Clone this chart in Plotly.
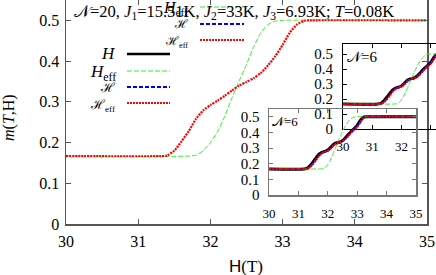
import plotly.graph_objects as go

# ---- data: N=20 (main panel) ----
h20 = [30.0, 31.3, 31.4, 31.5, 31.6, 31.7, 31.8, 31.9, 32.0, 32.1, 32.2, 32.3, 32.4,
       32.5, 32.6, 32.7, 32.8, 32.9, 33.0, 33.1, 33.2, 33.3, 33.4, 35.0]
m20_Heff_cal = [0.1667, 0.1667, 0.168, 0.180, 0.203, 0.228, 0.258, 0.279, 0.292, 0.303,
                0.315, 0.328, 0.340, 0.349, 0.358, 0.371, 0.390, 0.412, 0.440, 0.470,
                0.490, 0.499, 0.500, 0.500]
h20g = [30.0, 31.7, 31.8, 31.9, 32.0, 32.1, 32.2, 32.3, 32.4, 32.5, 32.6, 32.7, 32.8,
        32.9, 33.0, 35.0]
m20_Heff = [0.1667, 0.1667, 0.169, 0.180, 0.200, 0.227, 0.265, 0.310, 0.352, 0.392,
            0.435, 0.470, 0.490, 0.498, 0.500, 0.500]

# ---- data: N=6 (insets) ----
h6 = [30.0, 31.2, 31.3, 31.4, 31.5, 31.6, 31.7, 31.8, 31.9, 32.0, 32.1, 32.2, 32.3,
      32.4, 32.5, 32.6, 32.7, 32.8, 32.9, 33.0, 33.1, 33.2, 33.3, 33.4, 35.0]
m6_H = [0.1667, 0.1667, 0.172, 0.188, 0.212, 0.238, 0.261, 0.273, 0.279, 0.287, 0.305,
        0.325, 0.334, 0.338, 0.348, 0.366, 0.388, 0.408, 0.425, 0.445, 0.475, 0.496,
        0.500, 0.500, 0.500]
m6_Hcal = [0.1667, 0.1667, 0.170, 0.183, 0.205, 0.230, 0.255, 0.270, 0.278, 0.285, 0.301,
           0.321, 0.332, 0.337, 0.345, 0.362, 0.383, 0.404, 0.421, 0.440, 0.468, 0.493,
           0.500, 0.500, 0.500]
m6_Heff_cal = [0.1667, 0.1667, 0.168, 0.178, 0.198, 0.222, 0.248, 0.268, 0.277, 0.283,
               0.298, 0.318, 0.331, 0.336, 0.343, 0.358, 0.378, 0.400, 0.418, 0.435,
               0.462, 0.490, 0.499, 0.500, 0.500]
h6g = [30.0, 31.75, 31.85, 31.95, 32.05, 32.15, 32.25, 32.35, 32.45, 32.55, 32.65,
       32.75, 32.85, 32.95, 35.0]
m6_Heff = [0.1667, 0.1667, 0.169, 0.182, 0.210, 0.250, 0.295, 0.340, 0.385, 0.425,
           0.458, 0.482, 0.495, 0.500, 0.500]

xticks = [30, 31, 32, 33, 34, 35]
yticks = [0, 0.1, 0.2, 0.3, 0.4, 0.5]
ytick_text = ["0", "0.1", "0.2", "0.3", "0.4", "0.5"]

SERIF = "Liberation Serif, Times New Roman, serif"
W, Hh = 436, 275
def px(x): return x / W
def py(y): return 1 - y / Hh

BLACK = "#000000"
GREEN = "#33ee33"
BLUE = "#0000ee"
RED = "#ff0000"
GREEN_DASH = "5px,2px"
BLUE_DASH = "4px,2px"
RED_DOT = "2px,1px"

fig = go.Figure()

# main panel (N=20)
fig.add_trace(go.Scatter(x=h20g, y=m20_Heff, mode="lines", xaxis="x", yaxis="y",
                         line=dict(color=GREEN, width=1, dash=GREEN_DASH, shape="spline", smoothing=0.6)))
fig.add_trace(go.Scatter(x=h20, y=m20_Heff_cal, mode="lines", xaxis="x", yaxis="y",
                         line=dict(color=RED, width=2.2, dash=RED_DOT, shape="spline", smoothing=0.6)))

# insets (N=6)
for xa, ya in [("x2", "y2"), ("x3", "y3")]:
    fig.add_trace(go.Scatter(x=h6, y=m6_H, mode="lines", xaxis=xa, yaxis=ya,
                             line=dict(color=BLACK, width=3, shape="spline", smoothing=0.6)))
    fig.add_trace(go.Scatter(x=h6g, y=m6_Heff, mode="lines", xaxis=xa, yaxis=ya,
                             line=dict(color=GREEN, width=1, dash=GREEN_DASH, shape="spline", smoothing=0.6)))
    fig.add_trace(go.Scatter(x=h6, y=m6_Hcal, mode="lines", xaxis=xa, yaxis=ya,
                             line=dict(color=BLUE, width=2, dash=BLUE_DASH, shape="spline", smoothing=0.6)))
    fig.add_trace(go.Scatter(x=h6, y=m6_Heff_cal, mode="lines", xaxis=xa, yaxis=ya,
                             line=dict(color=RED, width=2, dash=RED_DOT, shape="spline", smoothing=0.6)))

def ax(domain, rng, anchor, color, lw, fs, standoff, mirror=True, ticklen=5):
    return dict(domain=domain, range=rng, anchor=anchor, showgrid=False, zeroline=False,
                showline=True, linecolor=color, linewidth=lw, mirror=("allticks" if mirror else False),
                ticks="inside", ticklen=ticklen, tickcolor=color, tickwidth=1,
                tickfont=dict(family=SERIF, size=fs, color="black"), automargin=False,
                ticklabelstandoff=standoff, fixedrange=True)

main_x = ax([px(66), px(427)], [30, 35], "y", "#555555", 1.5, 16, 2)
main_x.update(tickvals=xticks)
main_y = ax([py(224), py(0)], [0, 0.55], "x", "#555555", 1.5, 16, 2)
main_y.update(tickvals=yticks, ticktext=ytick_text)

in1_x = ax([px(343), 1.0], [30, 33.18], "y2", "#000000", 1, 13, 5, ticklen=4)
in1_x.update(tickvals=xticks)
in1_y = ax([py(129), py(44)], [0, 0.567], "x2", "#000000", 1, 15, 6, mirror=False, ticklen=4)
in1_y.update(tickvals=yticks, ticktext=ytick_text)

in2_x = ax([px(269), px(416)], [30, 35], "y3", "#777777", 1.5, 13, 6, ticklen=4)
in2_x.update(tickvals=xticks)
in2_y = ax([py(195), py(109)], [0, 0.55], "x3", "#777777", 1.5, 15, 5, ticklen=4)
in2_y.update(tickvals=yticks, ticktext=ytick_text)

annotations = []
def txt(x, y, s, size, anchor="center", angle=0, family=SERIF):
    annotations.append(dict(x=px(x), y=py(y), xref="paper", yref="paper", text=s,
                            showarrow=False, xanchor=anchor, yanchor="middle",
                            textangle=angle, font=dict(family=family, size=size, color="black")))

txt(72, 12, "𝒩=20, <i>J</i><sub>1</sub>=15.51K, <i>J</i><sub>2</sub>=33K, <i>J</i><sub>3</sub>=6.93K; <i>T</i>=0.08K", 16.5, "left")
txt(9, 118, "<i>m</i>(<i>T</i>,H)", 16, angle=-90)
txt(246, 266, "<span style='font-family:Liberation Sans'>H</span>(T)", 17)
txt(270, 122, "𝒩=6", 13, "left")
txt(345, 57, "𝒩=6", 15, "left")

# main key
key_main = [("<i>H</i>", 54, dict(color=BLACK, width=2.5)),
            ("<i>H</i><sub>eff</sub>", 71, dict(color=GREEN, width=1, dash=GREEN_DASH)),
            ("ℋ", 87, dict(color=BLUE, width=2, dash=BLUE_DASH)),
            ("ℋ<sub>eff</sub>", 103, dict(color=RED, width=2, dash=RED_DOT))]
shapes = []
for label, yy, ln in key_main:
    txt(118, yy + (2 if "sub" in label else 0), label, 17 if "H" in label else 13, "right")
    shapes.append(dict(type="line", xref="paper", yref="paper", x0=px(127), x1=px(170),
                       y0=py(yy), y1=py(yy), line=ln))

# inset key (upper)
key_in = [("<i>H</i><sub>eff</sub>", 7, dict(color=GREEN, width=1, dash=GREEN_DASH)),
          ("ℋ", 24, dict(color=BLUE, width=2, dash=BLUE_DASH)),
          ("ℋ<sub>eff</sub>", 40, dict(color=RED, width=2, dash=RED_DOT))]
for label, yy, ln in key_in:
    txt(190, yy + (2 if "sub" in label else 0), label, 16 if "H" in label else 12, "right")
    shapes.append(dict(type="line", xref="paper", yref="paper", x0=px(200), x1=px(244),
                       y0=py(yy), y1=py(yy), line=ln))

fig.update_layout(width=W, height=Hh, margin=dict(l=0, r=0, t=0, b=0, autoexpand=False),
                  paper_bgcolor="white", plot_bgcolor="rgba(0,0,0,0)", showlegend=False,
                  xaxis=main_x, yaxis=main_y, xaxis2=in1_x, yaxis2=in1_y,
                  xaxis3=in2_x, yaxis3=in2_y, annotations=annotations, shapes=shapes)

fig.write_html("out.html", config={"displayModeBar": False, "staticPlot": True},
               post_script="document.body.style.margin='0';document.body.style.padding='0';")
